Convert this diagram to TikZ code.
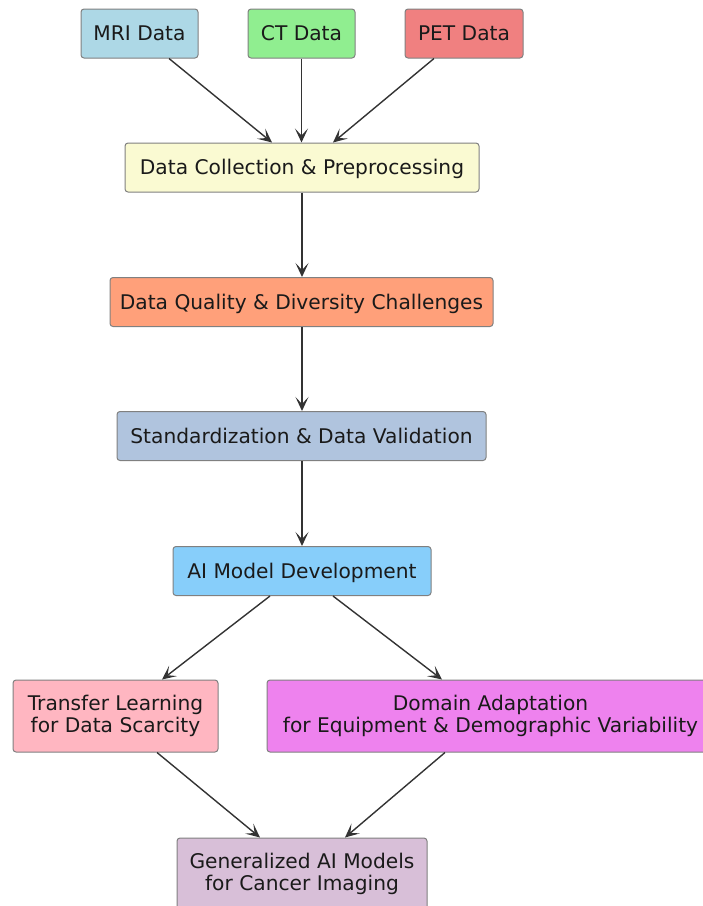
\documentclass[tikz,border=0pt]{standalone}
\usepackage{fontspec}
\setmainfont{DejaVu Sans}
\usetikzlibrary{arrows.meta}
\definecolor{mriC}{HTML}{ADD8E6}
\definecolor{ctC}{HTML}{90EE90}
\definecolor{petC}{HTML}{F08080}
\definecolor{dcpC}{HTML}{FAFAD2}
\definecolor{dqC}{HTML}{FFA07A}
\definecolor{stdC}{HTML}{B0C4DE}
\definecolor{aiC}{HTML}{87CEFA}
\definecolor{tlC}{HTML}{FFB6C1}
\definecolor{daC}{HTML}{EE82EE}
\definecolor{genC}{HTML}{D8BFD8}
\definecolor{edgeC}{HTML}{333333}
\definecolor{borderC}{HTML}{808080}
\definecolor{textC}{HTML}{1A1A1A}
\tikzset{
  box/.style={draw=borderC, line width=1pt, rounded corners=3pt,
    inner sep=0pt, align=center, text=textC,
    font=\fontsize{20.2}{22.5}\selectfont},
  oneline/.style={box, text height=14.6pt, text depth=0pt, minimum height=49pt},
  twoline/.style={box, minimum height=72pt},
  flow/.style={draw=edgeC, line width=1.4pt,
    -{Stealth[length=14pt, width=13pt, inset=7pt]}}
}
\begin{document}
\begin{tikzpicture}[x=1pt, y=-1pt]
\useasboundingbox (0,0) rectangle (703,906);
\clip (0,0) rectangle (703,906);

% sources
\node[oneline, fill=mriC, minimum width=117pt] (mri) at (139.5,33.5) {MRI Data};
\node[oneline, fill=ctC,  minimum width=107pt] (ct)  at (301.5,33.5) {CT Data};
\node[oneline, fill=petC, minimum width=118pt] (pet) at (464,33.5)   {PET Data};

% main pipeline
\node[oneline, fill=dcpC, minimum width=354pt] (dcp) at (302,167.5) {Data Collection \& Preprocessing};
\node[oneline, fill=dqC,  minimum width=383pt] (dq)  at (301.5,302) {Data Quality \& Diversity Challenges};
\node[oneline, fill=stdC, minimum width=369pt] (std) at (301.5,436) {Standardization \& Data Validation};
\node[oneline, fill=aiC,  minimum width=258pt] (ai)  at (302,571)   {AI Model Development};

% branches
\node[twoline, fill=tlC, minimum width=205pt] (tl) at (115.5,716) {Transfer Learning\\for Data Scarcity};
\node[twoline, fill=daC, minimum width=447pt] (da) at (490.5,716) {Domain Adaptation\\for Equipment \& Demographic Variability};

% result
\node[twoline, fill=genC, minimum width=250pt] (gen) at (302,874) {Generalized AI Models\\for Cancer Imaging};

% connectors
\draw[flow] ([xshift=29.5pt]mri.south) -- ([xshift=-30pt]dcp.north);
\draw[flow] (ct.south) -- (ct.south |- dcp.north);
\draw[flow] ([xshift=-30pt]pet.south) -- ([xshift=31pt]dcp.north);
\draw[flow] (dcp.south) -- (dq.north -| dcp.south);
\draw[flow] (dq.south -| dcp.south) -- (std.north -| dcp.south);
\draw[flow] (std.south -| dcp.south) -- (ai.north);
\draw[flow] ([xshift=-32pt]ai.south) -- ([xshift=46.5pt]tl.north);
\draw[flow] ([xshift=31pt]ai.south) -- ([xshift=-48.5pt]da.north);
\draw[flow] ([xshift=41.5pt]tl.south) -- ([xshift=-42pt]gen.north);
\draw[flow] ([xshift=-45.5pt]da.south) -- ([xshift=43pt]gen.north);
\end{tikzpicture}
\end{document}
